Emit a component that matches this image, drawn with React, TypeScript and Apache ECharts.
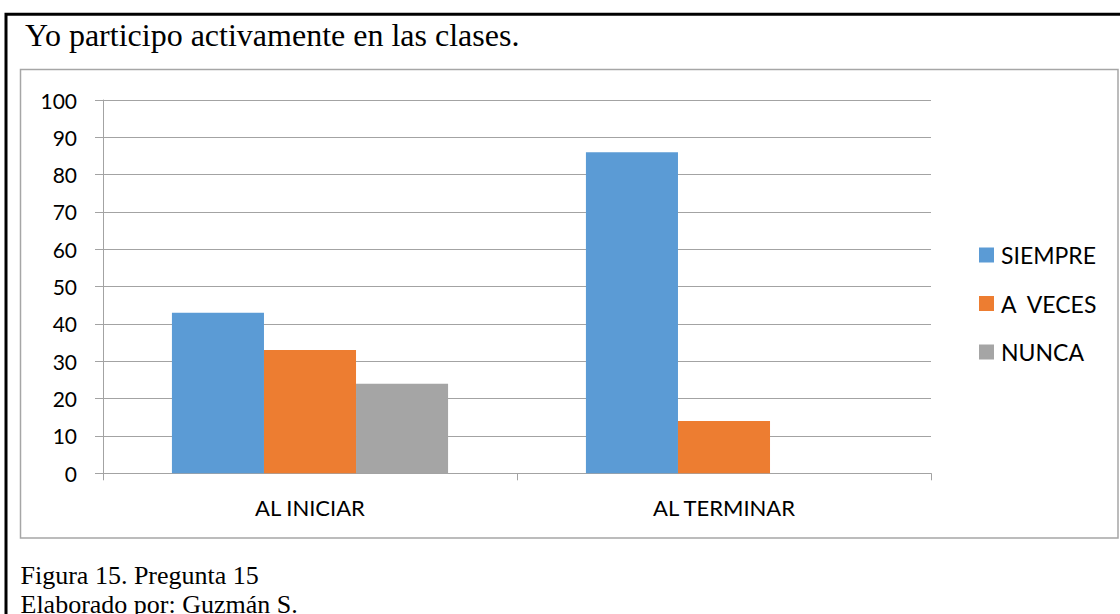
import React, { useEffect, useRef } from "react";
import * as echarts from "echarts";

const categories = ["AL INICIAR", "AL TERMINAR"];
const seriesNames = ["SIEMPRE", "A  VECES", "NUNCA"];
const siempre = [43, 86];
const aVeces = [33, 14];
const nunca = [24, 0];
const seriesColors = ["#5B9BD5", "#ED7D31", "#A5A5A5"];
const yTicks = { min: 0, max: 100, interval: 10 };
const titleText = "Yo participo activamente en las clases.";
const footer1 = "Figura 15. Pregunta 15";
const footer2 = "Elaborado por: Guzmán S.";

const SANS = "Lato, Carlito, Calibri, 'Open Sans', sans-serif";
const SERIF = "'Liberation Serif', 'Times New Roman', serif";
const GRIDC = "#a3a3a3";

export default function App() {
  const ref = useRef<HTMLDivElement>(null);
  useEffect(() => {
    if (!ref.current) return;
    const chart = echarts.init(ref.current, null, { renderer: "svg" });
    const values = [siempre, aVeces, nunca];
    chart.setOption({
      animation: false,
      backgroundColor: "#ffffff",
      textStyle: { fontFamily: SANS },
      grid: { left: 103, right: 189, top: 100, bottom: 140.7, containLabel: false },
      legend: {
        orient: "vertical",
        left: 974,
        top: 238,
        itemWidth: 15,
        itemHeight: 15,
        itemGap: 24.5,
        icon: "rect",
        selectedMode: false,
        textStyle: { fontFamily: SANS, fontSize: 23, color: "#000", lineHeight: 24, padding: [0, 0, 0, 2] },
        data: seriesNames,
      },
      xAxis: {
        type: "category",
        data: categories,
        axisLine: { show: true, lineStyle: { color: GRIDC, width: 1 } },
        axisTick: { show: true, length: 7, alignWithLabel: false, lineStyle: { color: GRIDC } },
        axisLabel: { color: "#000", fontSize: 22, fontFamily: SANS, margin: 23 },
        splitLine: { show: false },
      },
      yAxis: {
        type: "value",
        min: yTicks.min,
        max: yTicks.max,
        interval: yTicks.interval,
        axisLine: { show: true, lineStyle: { color: GRIDC, width: 1 } },
        axisTick: { show: true, length: 8, lineStyle: { color: GRIDC } },
        axisLabel: { color: "#000", fontSize: 21, fontFamily: SANS, margin: 26 },
        splitLine: { show: true, lineStyle: { color: GRIDC, width: 1 } },
      },
      series: seriesNames.map((name, i) => ({
        name,
        type: "bar",
        data: values[i],
        barGap: "0%",
        barCategoryGap: "33.3%",
        itemStyle: { color: seriesColors[i] },
      })),
      graphic: [
        {
          type: "rect",
          silent: true,
          z: -10,
          shape: { x: 6, y: 14.3, width: 1300, height: 800 },
          style: { fill: "none", stroke: "#000", lineWidth: 3 },
        },
        {
          type: "rect",
          silent: true,
          z: -10,
          shape: { x: 20.5, y: 69.5, width: 1097.5, height: 468.5 },
          style: { fill: "none", stroke: "#a6a6a6", lineWidth: 1.5 },
        },
        {
          type: "text",
          x: 25,
          y: 35,
          style: { text: titleText, font: `32px ${SERIF}`, fill: "#000", verticalAlign: "middle" },
        },
        {
          type: "text",
          x: 20.5,
          y: 575,
          style: { text: footer1, font: `26px ${SERIF}`, fill: "#000", verticalAlign: "middle" },
        },
        {
          type: "text",
          x: 20.5,
          y: 604,
          style: { text: footer2, font: `26px ${SERIF}`, fill: "#000", verticalAlign: "middle" },
        },
      ],
    });
    return () => chart.dispose();
  }, []);
  return (
    <div
      ref={ref}
      style={{ position: "fixed", left: 0, top: 0, width: 1120, height: 614 }}
    />
  );
}
